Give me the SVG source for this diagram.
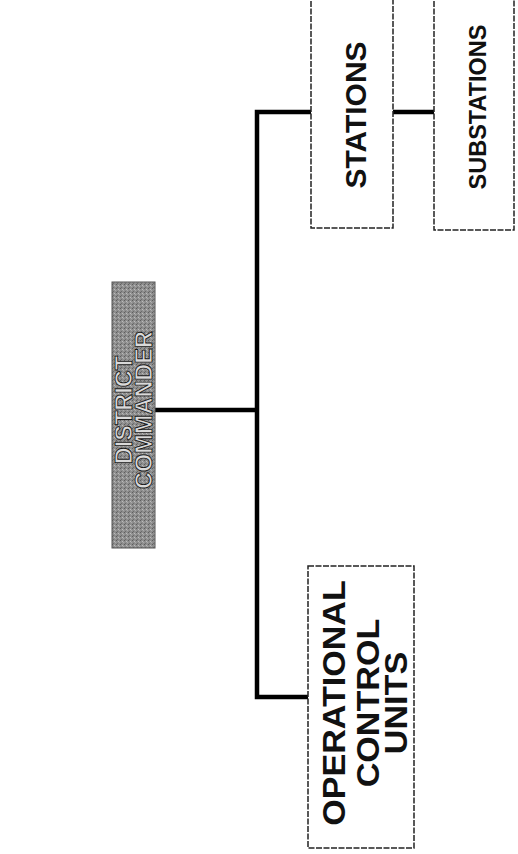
<svg xmlns="http://www.w3.org/2000/svg" width="518" height="854" viewBox="0 0 518 854">
<defs>
<pattern id="grain" width="4" height="4" patternUnits="userSpaceOnUse">
<rect width="4" height="4" fill="#8e8e8e"/>
<rect x="0" y="0" width="1" height="1" fill="#5e5e5e"/>
<rect x="2" y="1" width="1" height="1" fill="#bcbcbc"/>
<rect x="1" y="3" width="1" height="1" fill="#6c6c6c"/>
<rect x="3" y="2" width="1" height="1" fill="#aaaaaa"/>
</pattern>
</defs>
<style>
.box{fill:#ffffff;stroke:#222;stroke-width:1.5;stroke-dasharray:6 1.5}
.dc{fill:url(#grain);stroke:#555;stroke-width:1}
.t{font-family:"Liberation Sans",Arial,sans-serif;font-weight:bold;fill:#111;text-anchor:middle}
.tw{font-family:"Liberation Sans",Arial,sans-serif;font-weight:bold;fill:#dadada;stroke:#1a1a1a;stroke-width:0.9;text-anchor:middle}
.c{fill:none;stroke:#000;stroke-width:4.5}
</style>
<rect width="518" height="854" fill="#fff"/>
<g id="connectors">
<path class="c" d="M155 410 H257"/>
<path class="c" d="M311 112 H257 V697 H308"/>
<path class="c" d="M393 112 H434"/>
</g>
<g id="district-commander">
<rect class="dc" x="112" y="282" width="43" height="266"/>
<text class="tw" font-size="23.5" transform="translate(133,410) rotate(-90)"><tspan x="0" y="-1">DISTRICT</tspan><tspan x="0" y="19">COMMANDER</tspan></text>
</g>
<g id="stations">
<rect class="box" x="311" y="-2" width="82" height="230"/>
<text class="t" font-size="30" transform="translate(366,115) rotate(-90)">STATIONS</text>
</g>
<g id="substations">
<rect class="box" x="434" y="-2" width="80" height="232"/>
<text class="t" font-size="23.5" transform="translate(486,107) rotate(-90)">SUBSTATIONS</text>
</g>
<g id="operational-control-units">
<rect class="box" x="308" y="566" width="106" height="282"/>
<text class="t" font-size="31" transform="translate(358,703) rotate(-90) scale(1.1,1)"><tspan x="0" y="-13">OPERATIONAL</tspan><tspan x="0" y="21">CONTROL</tspan><tspan x="0" y="49">UNITS</tspan></text>
</g>
</svg>
